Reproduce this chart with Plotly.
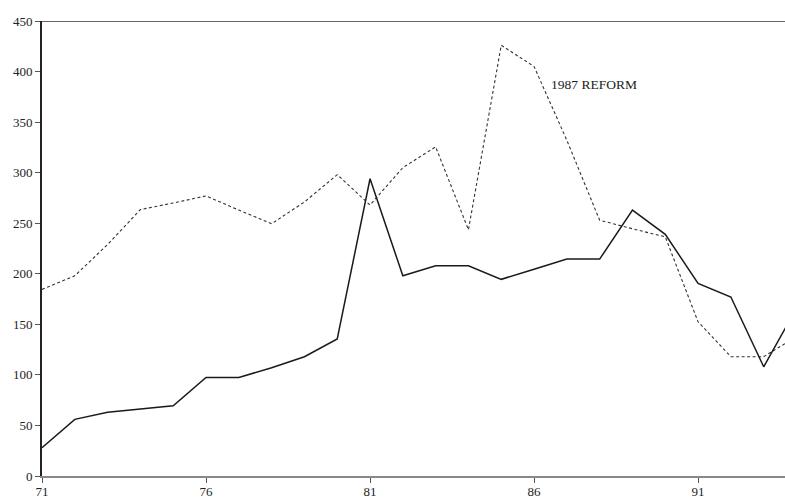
import plotly.graph_objects as go

years = list(range(71, 95))
solid_values = [28, 56, 63, 66, 69.5, 97.5, 97.5, 107, 118, 135.5, 294, 198, 208, 208, 194.5,
                204.5, 214.5, 214.5, 263, 239, 190.5, 177, 108, 166]
dashed_values = [184.5, 198, 229, 263.5, 270, 277, 263, 249.5, 271, 298, 268, 305, 325.5, 243.5,
                 426, 405, 332, 253, 244.5, 236.5, 152.5, 118, 118, 138]
x_ticks = [71, 76, 81, 86, 91]
y_ticks = [0, 50, 100, 150, 200, 250, 300, 350, 400, 450]
annotation_text = "1987 REFORM"
annotation_pos = (86.45, 387)

font_family = "Liberation Serif"

fig = go.Figure()
fig.add_trace(go.Scatter(x=years, y=dashed_values, mode="lines",
                         line=dict(color="#333333", width=1.1, dash="3px,2.5px"),
                         showlegend=False, hoverinfo="skip"))
fig.add_trace(go.Scatter(x=years, y=solid_values, mode="lines",
                         line=dict(color="#1a1a1a", width=1.5),
                         showlegend=False, hoverinfo="skip"))

fig.add_annotation(x=annotation_pos[0], y=annotation_pos[1], text=annotation_text,
                   showarrow=False, xanchor="left", yanchor="middle",
                   font=dict(family=font_family, size=13.5, color="#222222"))

fig.add_shape(type="line", xref="paper", yref="y", x0=0, x1=1, y0=450, y1=450,
              line=dict(color="#333333", width=1.5), layer="above")

fig.update_layout(
    width=785, height=499,
    margin=dict(l=42, r=0, t=21, b=23),
    paper_bgcolor="white", plot_bgcolor="white",
    xaxis=dict(range=[71, 93.65], tickvals=x_ticks, ticktext=[str(v) for v in x_ticks],
               showgrid=False, zeroline=False, showline=True, linecolor="#888888", linewidth=1.5,
               ticks="outside", ticklen=5, tickcolor="#555555", tickwidth=1,
               ticklabelstandoff=-2,
               tickfont=dict(family=font_family, size=13, color="#222222"), automargin=False),
    yaxis=dict(range=[0, 450], tickvals=y_ticks, showgrid=False, zeroline=False,
               showline=True, linecolor="#222222", linewidth=2,
               ticks="outside", ticklen=5, tickcolor="#555555", tickwidth=1,
               tickfont=dict(family=font_family, size=13, color="#222222"), automargin=False),
)

fig.write_html("out.html", config={"displayModeBar": False},
               post_script="document.body.style.margin='0px';")
